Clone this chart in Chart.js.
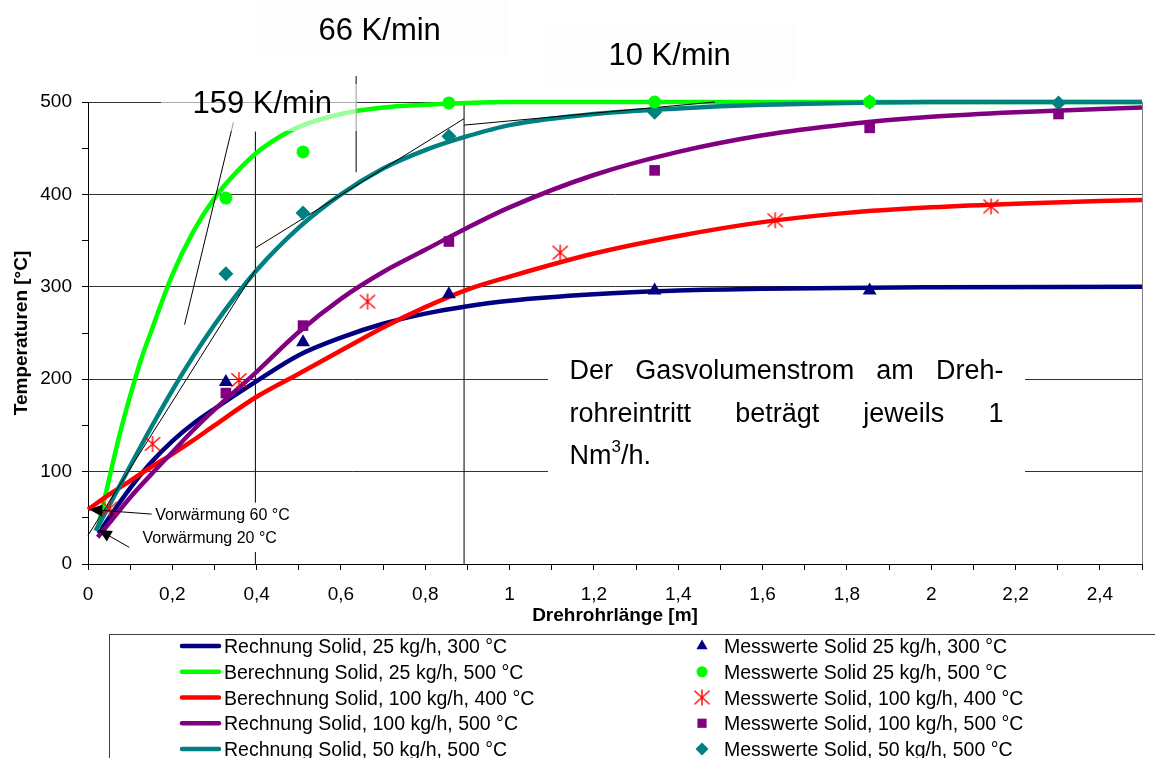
<!DOCTYPE html>
<html>
<head>
<meta charset="utf-8">
<script src="https://cdn.jsdelivr.net/npm/chart.js@4.4.1/dist/chart.umd.min.js"></script>
<style>
  html, body { margin: 0; padding: 0; background: #fff; }
  canvas { display: block; }
</style>
</head>
<body>
<canvas id="chart" width="1155" height="758"></canvas>
<script>
// Berechnete Kurven (x = Drehrohrlänge [m], y = Temperatur [°C])
const calcX300 = [0.025, 0.05, 0.1, 0.15, 0.2, 0.25, 0.3, 0.4, 0.5, 0.6, 0.7, 0.8, 0.9, 1.0, 1.2, 1.4, 1.6, 2.0, 2.5];
const calc300 = [33, 50, 82, 110, 133, 152, 168, 198, 226, 245, 260, 271, 279, 285, 292, 296, 298, 299.5, 300];

const calcX500_25 = [0.023, 0.05, 0.075, 0.1, 0.125, 0.15, 0.2, 0.25, 0.3, 0.35, 0.4, 0.45, 0.5, 0.6, 0.7, 0.8, 0.9, 1.0, 1.5, 2.5];
const calc500_25 = [38, 92, 140, 182, 220, 252, 313, 360, 396, 423, 445, 461, 473, 487, 494, 497, 499, 500, 500, 500];

const calcX400 = [0, 0.05, 0.1, 0.15, 0.2, 0.25, 0.3, 0.4, 0.5, 0.6, 0.7, 0.8, 0.9, 1.0, 1.2, 1.4, 1.6, 1.8, 2.0, 2.2, 2.5];
const calc400 = [59, 75, 90, 105, 119, 134, 150, 181, 206, 231, 256, 278, 297, 311, 336, 355, 370, 380, 386, 390, 394];

const calcX500_100 = [0.023, 0.05, 0.1, 0.15, 0.2, 0.25, 0.3, 0.4, 0.5, 0.6, 0.7, 0.8, 0.9, 1.0, 1.2, 1.4, 1.6, 1.8, 2.0, 2.2, 2.5];
const calc500_100 = [29, 44, 72, 97, 121, 145, 167, 208, 251, 287, 316, 340, 364, 386, 421, 446, 464, 476, 484, 489, 494];

const calcX500_50 = [0.018, 0.05, 0.1, 0.15, 0.2, 0.25, 0.3, 0.35, 0.4, 0.5, 0.6, 0.7, 0.8, 0.9, 1.0, 1.2, 1.4, 1.6, 1.8, 2.0, 2.5];
const calc500_50 = [36, 63, 106, 148, 188, 225, 259, 290, 318, 364, 400, 428, 448, 463, 475, 487, 493, 497, 499, 500, 500];

// Messwerte
const measX5 = [0.327, 0.51, 0.856, 1.344, 1.854];
const meas300 = [197, 240, 292, 296, 296];
const meas500_25 = [396, 446, 499, 500, 500];
const measX400 = [0.051, 0.153, 0.358, 0.663, 1.12, 1.63, 2.142];
const meas400 = [60, 130, 199, 284, 337, 372, 387];
const measX6 = [0.327, 0.51, 0.856, 1.344, 1.854, 2.302];
const meas500_100 = [185, 258, 349, 426, 472, 487];
const meas500_50 = [314, 380, 463, 489, 500, 499];

// Hilfslinien (Tangenten, Markierungen)
const tangentLines = [
  [[0.229, 259], [0.345, 478]],
  [[0.636, 424], [0.636, 528]],
  [[0, 31], [0.397, 318]],
  [[0.397, 342], [0.892, 482]],
  [[0.892, 475], [1.487, 500]]
];
const verticalLines = [
  [[0.397, 0], [0.397, 468]],
  [[0.892, 0], [0.892, 500]]
];

const calcLabels = [
  'Rechnung Solid, 25 kg/h, 300 °C',
  'Berechnung Solid, 25 kg/h, 500 °C',
  'Berechnung Solid, 100 kg/h, 400 °C',
  'Rechnung Solid, 100 kg/h, 500 °C',
  'Rechnung Solid, 50 kg/h, 500 °C'
];
const measLabels = [
  'Messwerte Solid 25 kg/h, 300 °C',
  'Messwerte Solid 25 kg/h, 500 °C',
  'Messwerte Solid, 100 kg/h, 400 °C',
  'Messwerte Solid, 100 kg/h, 500 °C',
  'Messwerte Solid, 50 kg/h, 500 °C'
];

const xTickLabels = ['0', '0,2', '0,4', '0,6', '0,8', '1', '1,2', '1,4', '1,6', '1,8', '2', '2,2', '2,4'];
const yTickLabels = ['0', '100', '200', '300', '400', '500'];

const FONT = '"Liberation Sans", Arial, Helvetica, sans-serif';
const colors = ['#000080', '#00ff00', '#ff0000', '#800080', '#008080'];

// Stern-Marker (senkrechter Strich + X)
function asteriskImage(size, color) {
    const c = document.createElement('canvas');
    c.width = size;
    c.height = size;
    const g = c.getContext('2d');
    g.strokeStyle = color;
    g.lineWidth = 1.4;
    const m = size / 2, r = size / 2 - 1;
    g.beginPath();
    g.moveTo(m, m - r); g.lineTo(m, m + r);
    g.moveTo(m - r * 0.95, m - r * 0.85); g.lineTo(m + r * 0.95, m + r * 0.85);
    g.moveTo(m + r * 0.95, m - r * 0.85); g.lineTo(m - r * 0.95, m + r * 0.85);
    g.stroke();
    return c;
}
const asterisk = asteriskImage(18, '#ff0000');

function pts(xs, ys) {
    return xs.map((x, i) => ({ x: x, y: ys[i] }));
}

const curves = [
    [calcX300, calc300],
    [calcX500_25, calc500_25],
    [calcX400, calc400],
    [calcX500_100, calc500_100],
    [calcX500_50, calc500_50]
];
const measured = [
    [measX5, meas300, 'triangle', 8],
    [measX5, meas500_25, 'circle', 6.5],
    [measX400, meas400, asterisk, 9],
    [measX6, meas500_100, 'rect', 7.5],
    [measX6, meas500_50, 'rectRot', 7.5]
];

const datasets = [];
measured.forEach((m, i) => {
    datasets.push({
        type: 'scatter',
        label: measLabels[i],
        data: pts(m[0], m[1]),
        pointStyle: m[2],
        pointRadius: m[3],
        pointBackgroundColor: colors[i],
        pointBorderColor: colors[i],
        pointBorderWidth: 0,
        showLine: false,
        clip: false,
        order: i
    });
});
curves.forEach((c, i) => {
    datasets.push({
        type: 'line',
        label: calcLabels[i],
        data: pts(c[0], c[1]),
        borderColor: colors[i],
        borderWidth: 4.5,
        pointRadius: 0,
        fill: false,
        cubicInterpolationMode: 'monotone',
        clip: false,
        order: 14 - i
    });
});
tangentLines.forEach(l => {
    datasets.push({
        type: 'line', label: '', data: l.map(p => ({ x: p[0], y: p[1] })),
        borderColor: '#000', borderWidth: 1, pointRadius: 0, clip: false, order: 5
    });
});
verticalLines.forEach(l => {
    datasets.push({
        type: 'line', label: '', data: l.map(p => ({ x: p[0], y: p[1] })),
        borderColor: '#000', borderWidth: 1, pointRadius: 0, clip: false, order: 20
    });
});

const arrows = [
    { tip: [0.003, 59], tail: [0.151, 54], at: [0.1595, 52.3], text: 'Vorwärmung 60 °C' },
    { tip: [0.025, 37], tail: [0.098, 18], at: [0.129, 27], text: 'Vorwärmung 20 °C' }
];

function drawMarker(ctx, style, r, x, y, color) {
    ctx.save();
    ctx.fillStyle = color;
    ctx.beginPath();
    if (style === 'triangle') {
        ctx.moveTo(x, y - r); ctx.lineTo(x + r * 0.866, y + r / 2); ctx.lineTo(x - r * 0.866, y + r / 2);
        ctx.closePath(); ctx.fill();
    } else if (style === 'circle') {
        ctx.arc(x, y, r, 0, Math.PI * 2); ctx.fill();
    } else if (style === 'rect') {
        const s = r * Math.SQRT1_2;
        ctx.fillRect(x - s, y - s, 2 * s, 2 * s);
    } else if (style === 'rectRot') {
        ctx.moveTo(x, y - r); ctx.lineTo(x + r, y); ctx.lineTo(x, y + r); ctx.lineTo(x - r, y);
        ctx.closePath(); ctx.fill();
    } else {
        ctx.drawImage(style, x - style.width / 2, y - style.height / 2);
    }
    ctx.restore();
}

function justify(ctx, words, left, right, base) {
    const w = words.map(t => ctx.measureText(t).width);
    const total = w.reduce((s, v) => s + v, 0);
    const gap = (right - left - total) / (words.length - 1);
    let xx = left;
    words.forEach((t, i) => { ctx.fillText(t, xx, base); xx += w[i] + gap; });
}

const overlay = {
    id: 'overlay',
    beforeDatasetsDraw(chart) {
        const { ctx, chartArea: a } = chart;
        ctx.save();
        ctx.strokeStyle = '#808080';
        ctx.lineWidth = 1;
        const rx = Math.round(a.right) + 0.5;
        ctx.beginPath(); ctx.moveTo(rx, a.top); ctx.lineTo(rx, a.bottom); ctx.stroke();
        ctx.restore();
    },
    afterDatasetsDraw(chart) {
        const { ctx, scales: { x, y } } = chart;
        ctx.save();

        // Textfelder Aufheizraten
        ctx.fillStyle = 'rgba(0,0,0,0.006)';
        ctx.fillRect(256, 0, 251, 57);
        ctx.fillRect(545, 25, 252, 57);
        ctx.fillStyle = 'rgba(255,255,255,0.6)';
        ctx.fillRect(161, 84, 196, 47);
        ctx.fillStyle = '#000';
        ctx.font = '31px ' + FONT;
        ctx.textBaseline = 'alphabetic';
        ctx.textAlign = 'left';
        ctx.fillText('159 K/min', 192.5, 113);
        ctx.fillText('66 K/min', 318.5, 39.5);
        ctx.fillText('10 K/min', 608.5, 65);

        // Hinweis Gasvolumenstrom
        ctx.fillStyle = '#fff';
        ctx.fillRect(548, 345, 477, 140);
        ctx.fillStyle = '#000';
        ctx.font = '27px ' + FONT;
        justify(ctx, ['Der', 'Gasvolumenstrom', 'am', 'Dreh-'], 569.5, 1003.5, 378.5);
        justify(ctx, ['rohreintritt', 'beträgt', 'jeweils', '1'], 569.5, 1003.5, 421.5);
        let lx = 569.5;
        ctx.fillText('Nm', lx, 463.5);
        lx += ctx.measureText('Nm').width;
        ctx.font = '17px ' + FONT;
        ctx.fillText('3', lx, 452);
        lx += ctx.measureText('3').width;
        ctx.font = '27px ' + FONT;
        ctx.fillText('/h.', lx, 463.5);

        // Vorwärmung-Pfeile
        ctx.font = '16px ' + FONT;
        ctx.textBaseline = 'middle';
        arrows.forEach(a => {
            const tx = x.getPixelForValue(a.tip[0]), ty = y.getPixelForValue(a.tip[1]);
            const sx = x.getPixelForValue(a.tail[0]), sy = y.getPixelForValue(a.tail[1]);
            const lxp = x.getPixelForValue(a.at[0]), lyp = y.getPixelForValue(a.at[1]);
            ctx.fillStyle = '#fff';
            ctx.fillRect(lxp - 5, lyp - 13, 147, 26);
            ctx.fillStyle = '#000';
            ctx.fillText(a.text, lxp, lyp);
            const len = Math.hypot(tx - sx, ty - sy);
            const ux = (tx - sx) / len, uy = (ty - sy) / len;
            ctx.strokeStyle = '#000';
            ctx.lineWidth = 1;
            ctx.beginPath(); ctx.moveTo(sx, sy); ctx.lineTo(tx - ux * 8, ty - uy * 8); ctx.stroke();
            const bx = tx - ux * 13, by = ty - uy * 13;
            ctx.beginPath();
            ctx.moveTo(tx, ty);
            ctx.lineTo(bx - uy * 6, by + ux * 6);
            ctx.lineTo(bx + uy * 6, by - ux * 6);
            ctx.closePath();
            ctx.fill();
        });
        ctx.restore();
    },
    afterDraw(chart) {
        const ctx = chart.ctx;
        ctx.save();
        ctx.strokeStyle = '#404040';
        ctx.lineWidth = 1;
        ctx.strokeRect(109.5, 634.5, 1200, 200);
        ctx.font = '19.5px ' + FONT;
        ctx.textBaseline = 'alphabetic';
        ctx.textAlign = 'left';
        for (let i = 0; i < 5; i++) {
            const ry = 646 + i * 25.75;
            ctx.strokeStyle = colors[i];
            ctx.lineWidth = 4.5;
            ctx.lineCap = 'round';
            ctx.beginPath(); ctx.moveTo(182, ry); ctx.lineTo(219, ry); ctx.stroke();
            ctx.fillStyle = '#000';
            ctx.fillText(calcLabels[i], 224, ry + 7);
            const m = measured[i];
            drawMarker(ctx, m[2], m[2] === 'circle' ? 5.5 : 6.5, 702, ry, colors[i]);
            ctx.fillStyle = '#000';
            ctx.fillText(measLabels[i], 724, ry + 7);
        }
        ctx.restore();
    }
};

Chart.defaults.font.family = FONT;
Chart.defaults.color = '#000';

new Chart(document.getElementById('chart').getContext('2d'), {
    data: { datasets: datasets },
    options: {
        responsive: false,
        animation: false,
        events: [],
        layout: { padding: { left: 0, right: 6, top: 102, bottom: 131 } },
        plugins: { legend: { display: false }, tooltip: { enabled: false } },
        scales: {
            x: {
                type: 'linear',
                min: 0,
                max: 2.5,
                afterFit: s => { s.height = 63; },
                border: { color: '#000', width: 1 },
                grid: { drawOnChartArea: false, tickLength: 6, tickColor: '#000', color: '#000' },
                ticks: {
                    stepSize: 0.1,
                    maxTicksLimit: 100,
                    autoSkip: false,
                    maxRotation: 0,
                    minRotation: 0,
                    padding: 13,
                    font: { size: 19 },
                    callback: (v, i) => (i % 2 === 0 ? (xTickLabels[i / 2] || '') : '')
                },
                title: {
                    display: true,
                    text: 'Drehrohrlänge [m]',
                    font: { size: 19, weight: 'bold' },
                    padding: { top: 0, bottom: 0 }
                }
            },
            y: {
                type: 'linear',
                min: 0,
                max: 500,
                afterFit: s => { s.width = 88; },
                border: { color: '#000', width: 1 },
                grid: {
                    tickLength: 6,
                    tickColor: '#000',
                    color: c => (c.tick && c.tick.value % 100 === 0 ? '#333' : 'rgba(0,0,0,0)')
                },
                ticks: {
                    stepSize: 50,
                    autoSkip: false,
                    padding: 10,
                    font: { size: 19 },
                    callback: (v, i) => (i % 2 === 0 ? (yTickLabels[i / 2] || '') : '')
                },
                title: {
                    display: true,
                    text: 'Temperaturen [°C]',
                    font: { size: 19, weight: 'bold' },
                    padding: { top: 10, bottom: 0 }
                }
            }
        }
    },
    plugins: [overlay]
});
</script>
</body>
</html>
